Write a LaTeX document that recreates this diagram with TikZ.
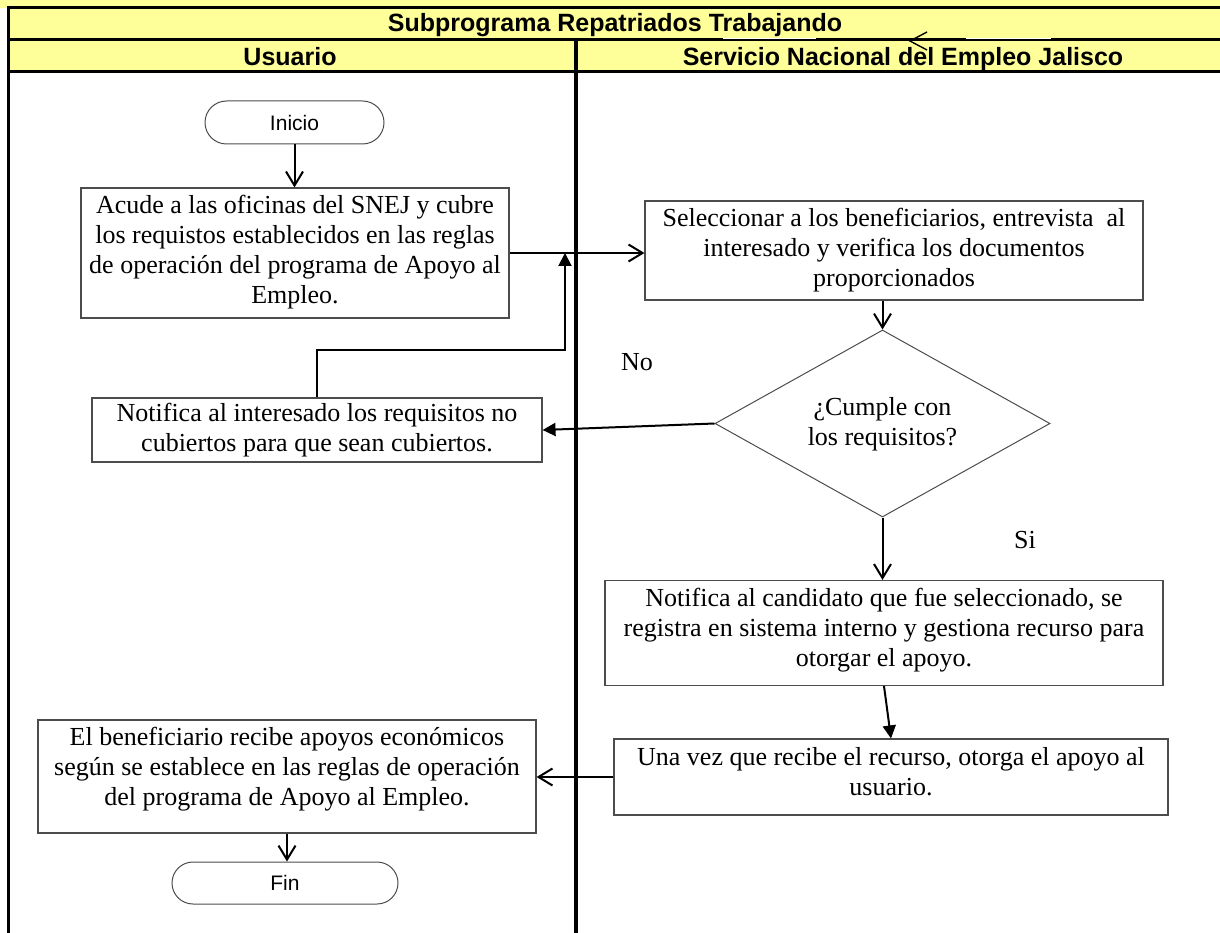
\documentclass[tikz,border=0pt]{standalone}
\usepackage{fontspec}
\setmainfont{Liberation Serif}
\setsansfont{Liberation Sans}
\usetikzlibrary{arrows.meta,shapes.geometric,shapes.misc}
\definecolor{hdr}{HTML}{FFFF99}
\begin{document}
\begin{tikzpicture}[x=1pt,y=-1pt,
  box/.style={draw=black!70,line width=1.1pt,inner sep=0},
  txt/.style={font=\fontsize{26}{30}\selectfont,align=center,inner sep=0},
  term/.style={draw=black!70,line width=1pt,rounded rectangle,inner sep=0,font=\sffamily\fontsize{21}{24}\selectfont},
  hfont/.style={font=\sffamily\bfseries\fontsize{25}{28}\selectfont,inner sep=0,text height=18pt,text depth=5pt},
  conn/.style={line width=2pt},
  opentip/.style={-{Straight Barb[length=14pt,width=17pt]}},
  solidtip/.style={-{Triangle[length=13pt,width=13pt]}},
  heavy/.style={line width=3pt}]
\useasboundingbox (0,0) rectangle (1220,933);
% header
\fill[hdr] (0,0) rectangle (1220,8);
\fill[hdr] (8,8) rectangle (1220,72);
\draw[heavy] (1220,8) -- (8,8) -- (8,933);
\draw[heavy] (8,40) -- (1220,40);
\draw[heavy] (8,72) -- (1220,72);
\draw[line width=4pt] (576,40) -- (576,933);
\draw[white,line width=1.1pt] (723,38.6) -- (816,38.6);
\draw[white,line width=1.1pt] (966,38.6) -- (1051,38.6);
\draw[line width=1.4pt] (927,32) -- (910,41) -- (927,50);
\node[hfont] (title) at (615,25) {Subprograma Repatriados Trabajando};
\node[hfont] (hU) at (290,59) {Usuario};
\node[hfont] (hS) at (903,59) {Servicio Nacional del Empleo Jalisco};
% shapes
\node[term,minimum width=179pt,minimum height=43pt] (ini) at (294.5,122.5) {Inicio};
\node[box,minimum width=428pt,minimum height=130pt] (b1) at (295,253) {};
\node[txt,anchor=north] (b1t) at ([yshift=-8pt]b1.north) {Acude a las oficinas del SNEJ y cubre\\los requistos establecidos en las reglas\\de operación del programa de Apoyo al\\Empleo.};
\node[box,minimum width=498pt,minimum height=99pt] (b2) at (894,250.5) {};
\node[txt,anchor=north] (b2t) at ([yshift=-8pt]b2.north) {Seleccionar a los beneficiarios, entrevista~ al\\interesado y verifica los documentos\\proporcionados};
\node[box,minimum width=450pt,minimum height=64pt] (b3) at (317,430) {};
\node[txt,anchor=north] (b3t) at ([yshift=-6pt]b3.north) {Notifica al interesado los requisitos no\\cubiertos para que sean cubiertos.};
\node[draw=black!70,line width=1pt,diamond,minimum width=335pt,minimum height=187pt,inner sep=0] (d) at (882.5,423.5) {};
\node[txt] (dt) at ([yshift=-1pt]d.center) {¿Cumple con\\los requisitos?};
\node[box,minimum width=558pt,minimum height=105pt] (b4) at (884,633) {};
\node[txt,anchor=north] (b4t) at ([yshift=-8pt]b4.north) {Notifica al candidato que fue seleccionado, se\\registra en sistema interno y gestiona recurso para\\otorgar el apoyo.};
\node[box,minimum width=554pt,minimum height=76pt] (b5) at (891,777) {};
\node[txt,anchor=north] (b5t) at ([yshift=-9pt]b5.north) {Una vez que recibe el recurso, otorga el apoyo al\\usuario.};
\node[box,minimum width=498pt,minimum height=113pt] (b6) at (287,776.5) {};
\node[txt,anchor=north] (b6t) at ([yshift=-8pt]b6.north) {El beneficiario recibe apoyos económicos\\según se establece en las reglas de operación\\del programa de Apoyo al Empleo.};
\node[term,minimum width=226pt,minimum height=42pt] (fin) at (285,883) {Fin};
\node[txt] (no) at (637,362) {No};
\node[txt] (si) at (1025,540) {Si};
\coordinate (c1) at (565,350);
% connectors
\draw[conn,opentip] (ini.south) -- (b1.north -| ini.south);
\draw[conn,opentip] (b1.east) -- (b1.east -| b2.west);
\draw[conn,solidtip] (b3.north) |- (c1) -- (c1 |- b1.east);
\draw[conn,opentip] (d.north |- b2.south) -- (d.north);
\draw[conn,solidtip] (d.west) -- (b3.east);
\draw[conn,opentip] (d.south) -- (d.south |- b4.north);
\draw[conn,solidtip] (b4.south) -- (b5.north);
\draw[conn,opentip] (b5.west) -- (b5.west -| b6.east);
\draw[conn,opentip] (b6.south) -- (b6.south |- fin.north);
\end{tikzpicture}
\end{document}
